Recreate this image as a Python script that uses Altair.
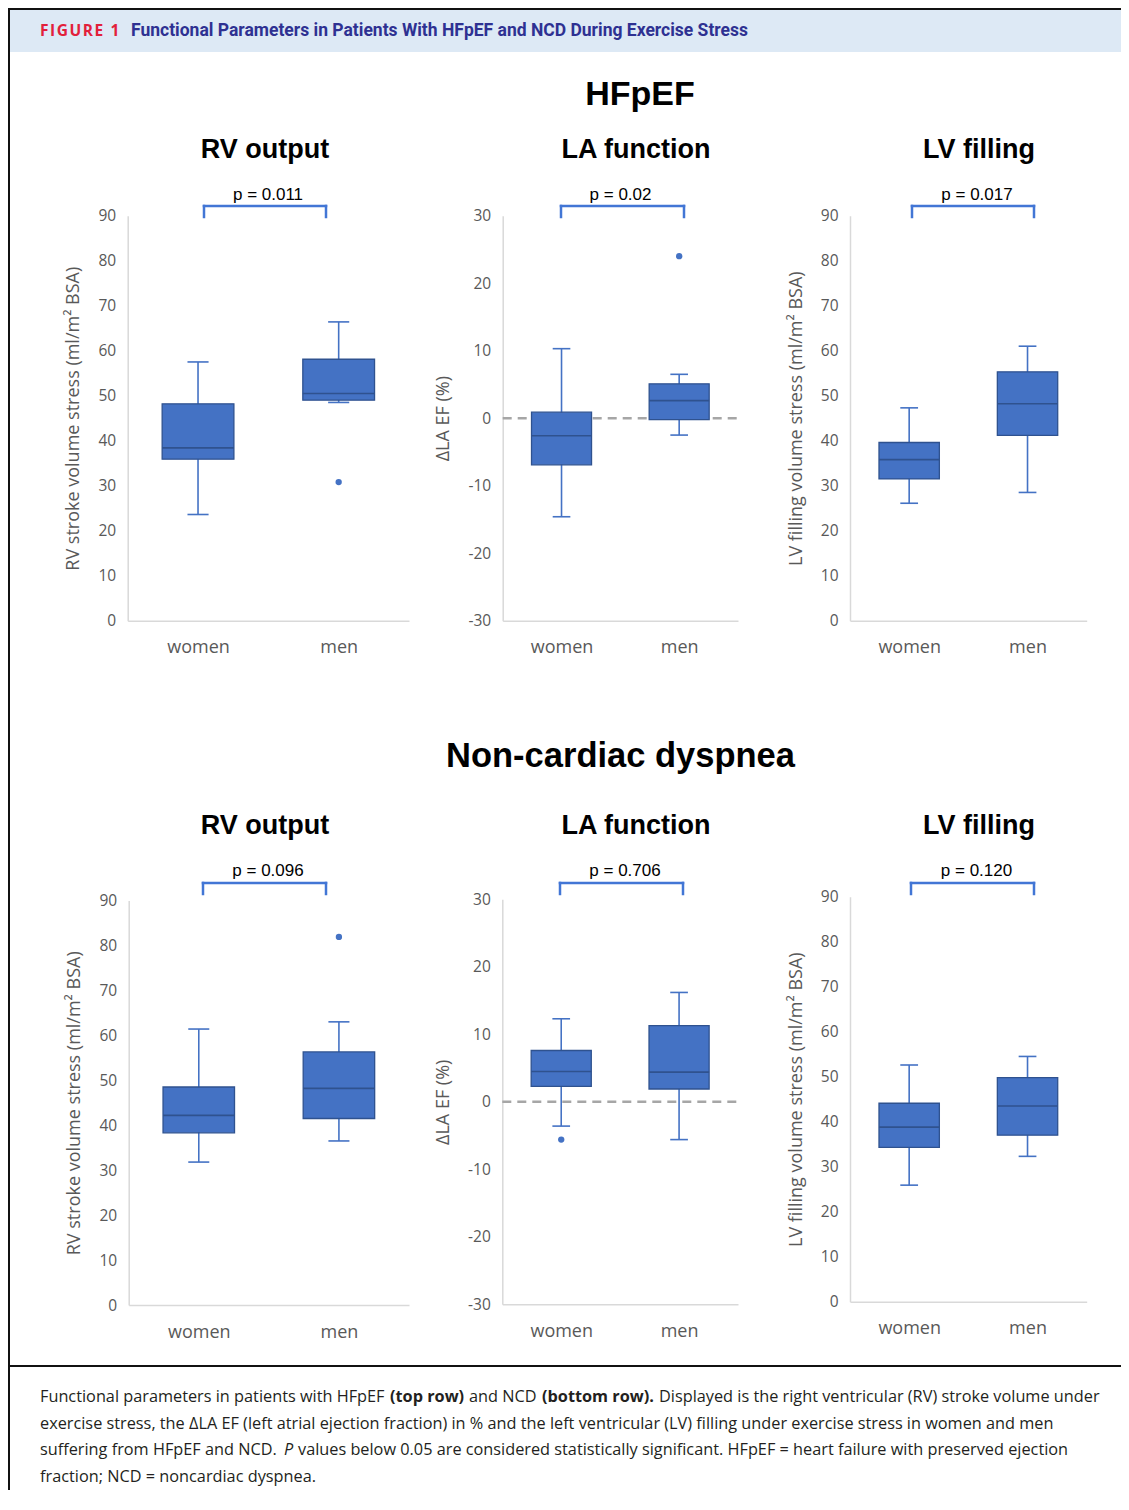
import altair as alt
import pandas as pd

# ---------------------------------------------------------------- data
GROUPS = ["women", "men"]
# five-number summaries: [lower whisker, Q1, median, Q3, upper whisker]
HF_RV = {"women": [23.6, 35.9, 38.4, 48.2, 57.5], "men": [48.5, 49.0, 50.5, 58.1, 66.4]}
HF_RV_OUT = {"women": [], "men": [30.8]}
HF_LA = {"women": [-14.6, -6.9, -2.6, 0.9, 10.3], "men": [-2.5, -0.2, 2.6, 5.1, 6.5]}
HF_LA_OUT = {"women": [], "men": [24.0]}
HF_LV = {"women": [26.1, 31.5, 35.8, 39.6, 47.3], "men": [28.5, 41.2, 48.2, 55.3, 61.0]}
HF_LV_OUT = {"women": [], "men": []}

NCD_RV = {"women": [31.8, 38.3, 42.2, 48.5, 61.4], "men": [36.5, 41.5, 48.2, 56.3, 63.0]}
NCD_RV_OUT = {"women": [], "men": [81.9]}
NCD_LA = {"women": [-3.6, 2.3, 4.5, 7.6, 12.3], "men": [-5.6, 1.9, 4.4, 11.3, 16.2]}
NCD_LA_OUT = {"women": [-5.6], "men": []}
NCD_LV = {"women": [25.9, 34.3, 38.8, 44.1, 52.6], "men": [32.3, 37.0, 43.5, 49.8, 54.5]}
NCD_LV_OUT = {"women": [], "men": []}

P_VALUES = ["p = 0.011", "p = 0.02", "p = 0.017", "p = 0.096", "p = 0.706", "p = 0.120"]
PANEL_TITLES = ["RV output", "LA function", "LV filling"]
Y_TITLES = ["RV stroke volume stress (ml/m² BSA)", "ΔLA EF (%)", "LV filling volume stress (ml/m² BSA)"]
SECTION_TITLES = ["HFpEF", "Non-cardiac dyspnea"]
VOL_TICKS = [0, 10, 20, 30, 40, 50, 60, 70, 80, 90]
LA_TICKS = [-30, -20, -10, 0, 10, 20, 30]
FIG_LABEL = "FIGURE 1"
FIG_TITLE = "Functional Parameters in Patients With HFpEF and NCD During Exercise Stress"

# ---------------------------------------------------------------- style / layout
W, H = 1113, 1482
OFF = 8
BLUE = "#4472C4"
DARK = "#2F528F"
BRACKET = "#4276D5"
AXIS_GRAY = "#D9D9D9"
LABEL_GRAY = "#595959"
BOX_HALF = 0.255
CAP_HALF = 0.075
AX_FONT = "Open Sans"
TITLE_FONT = "Liberation Sans"

# (stats, outliers, domain, ticks, frame in page px: x0, x1, ytop, ybottom, zero line)
PANELS = [
    (HF_RV, HF_RV_OUT, [0, 90], VOL_TICKS, (127.7, 409, 215.7, 620.7), False),
    (HF_LA, HF_LA_OUT, [-30, 30], LA_TICKS, (502.7, 738, 215.7, 620.7), True),
    (HF_LV, HF_LV_OUT, [0, 90], VOL_TICKS, (850, 1086.7, 215.7, 620.7), False),
    (NCD_RV, NCD_RV_OUT, [0, 90], VOL_TICKS, (128.7, 409, 900.5, 1305), False),
    (NCD_LA, NCD_LA_OUT, [-30, 30], LA_TICKS, (502.3, 738, 899.3, 1304.3), True),
    (NCD_LV, NCD_LV_OUT, [0, 90], VOL_TICKS, (850, 1086.7, 896.7, 1301.7), False),
]


def make_panel(i):
    stats, outs, domain, ticks, frame, zero = PANELS[i]
    x0, x1, yt, yb = [v - OFF for v in frame]
    rows = []
    for k, g in enumerate(GROUPS):
        lo, q1, md, q3, hi = stats[g]
        rows.append(dict(pos=k, low=lo, q1=q1, med=md, q3=q3, high=hi,
                         box_l=k - BOX_HALF, box_r=k + BOX_HALF,
                         cap_l=k - CAP_HALF, cap_r=k + CAP_HALF))
    df = pd.DataFrame(rows)
    df_out = pd.DataFrame([dict(pos=k, value=v) for k, g in enumerate(GROUPS) for v in outs[g]],
                          columns=["pos", "value"])

    xs = alt.Scale(domain=[-0.5, 1.5], range=[x0, x1], nice=False, zero=False)
    ys = alt.Scale(domain=domain, range=[yb, yt], nice=False, zero=False)
    xaxis = alt.Axis(orient="bottom", offset=yb - H, values=[0, 1],
                     labelExpr=f"datum.value == 0 ? '{GROUPS[0]}' : '{GROUPS[1]}'",
                     title=None, ticks=False, tickSize=0, grid=False,
                     domainColor=AXIS_GRAY, domainWidth=1.5,
                     labelFont=AX_FONT, labelFontSize=18, labelColor=LABEL_GRAY,
                     labelPadding=18, labelFlush=False, labelOverlap=False)
    yaxis = alt.Axis(orient="left", offset=-x0, values=ticks, title=Y_TITLES[i % 3],
                     labelExpr="'' + datum.value",
                     ticks=False, tickSize=0, grid=False,
                     domainColor=AXIS_GRAY, domainWidth=1.5,
                     labelFont=AX_FONT, labelFontSize=15.5, labelColor=LABEL_GRAY,
                     labelPadding=12, labelFlush=False, labelOverlap=False,
                     titleFont=AX_FONT, titleFontSize=18, titleFontWeight="normal",
                     titleColor=LABEL_GRAY, titlePadding=15)

    def X(f):
        return alt.X(f"{f}:Q", scale=xs, axis=xaxis)

    def Y(f):
        return alt.Y(f"{f}:Q", scale=ys, axis=yaxis)

    base = alt.Chart(df)
    layers = []
    if zero:
        dz = pd.DataFrame({"xa": [-0.5], "xb": [1.5], "zero": [0]})
        layers.append(alt.Chart(dz).mark_rule(color="#A6A6A6", strokeWidth=2.5, strokeDash=[9, 6])
                      .encode(x=X("xa"), x2="xb", y=Y("zero")))
    layers += [
        base.mark_rule(color=BLUE, strokeWidth=1.6).encode(x=X("pos"), y=Y("low"), y2="high"),
        base.mark_rule(color=BLUE, strokeWidth=1.6).encode(x=X("cap_l"), x2="cap_r", y=Y("low")),
        base.mark_rule(color=BLUE, strokeWidth=1.6).encode(x=X("cap_l"), x2="cap_r", y=Y("high")),
        base.mark_rect(fill=BLUE, stroke=DARK, strokeWidth=1.3).encode(
            x=X("box_l"), x2="box_r", y=Y("q1"), y2="q3"),
        base.mark_rule(color=DARK, strokeWidth=1.6).encode(x=X("box_l"), x2="box_r", y=Y("med")),
    ]
    if len(df_out):
        layers.append(alt.Chart(df_out).mark_circle(color=BLUE, size=40, opacity=1)
                      .encode(x=X("pos"), y=Y("value")))
    return alt.layer(*layers)


ONE = pd.DataFrame({"k": [0]})


def text(s, x, y, size, weight="normal", color="#000000", font=TITLE_FONT, align="center",
         baseline="alphabetic", style="normal"):
    return alt.Chart(ONE).mark_text(text=s, font=font, fontSize=size, fontWeight=weight,
                                    fontStyle=style, color=color, align=align,
                                    baseline=baseline).encode(
        x=alt.value(x - OFF), y=alt.value(y - OFF))


def hline(xa, xb, y, color, width):
    return alt.Chart(ONE).mark_rule(color=color, strokeWidth=width, strokeCap="square").encode(
        x=alt.value(xa - OFF), x2=alt.value(xb - OFF), y=alt.value(y - OFF))


def vline(x, ya, yb, color, width):
    return alt.Chart(ONE).mark_rule(color=color, strokeWidth=width, strokeCap="square").encode(
        x=alt.value(x - OFF), y=alt.value(ya - OFF), y2=alt.value(yb - OFF))


deco = []
# header band and frame
deco.append(alt.Chart(ONE).mark_rect(color="#DDE9F5").encode(
    x=alt.value(2), x2=alt.value(W), y=alt.value(1), y2=alt.value(44)))
deco.append(hline(8, W + OFF, 9, "#111111", 2))
deco.append(vline(9, 8, H + OFF, "#111111", 2))
deco.append(hline(8, W + OFF, 1366, "#111111", 2))
deco.append(text("\u200a".join(FIG_LABEL), 40, 31, 15.5, "bold", "#E2203A", "Open Sans", "left", "middle"))
deco.append(text(FIG_TITLE, 131, 31, 17.5, "bold", "#2E3192", "Roboto", "left", "middle"))

# section titles
deco.append(text(SECTION_TITLES[0], 640, 105, 34, "bold"))
deco.append(text(SECTION_TITLES[1], 620.5, 767, 34.5, "bold"))

# panel titles, p values, brackets
title_x = [265, 636, 979]
title_y = [158, 834]
p_x = [[268, 620.5, 977], [268, 625, 976.5]]
p_y = [200, 876]
br_x = [[(204, 326), (561, 684), (912, 1034)], [(203, 326), (560, 683), (911, 1034)]]
br_y = [(206, 217), (883, 894)]
for r in range(2):
    for c in range(3):
        deco.append(text(PANEL_TITLES[c], title_x[c], title_y[r], 27, "bold"))
        deco.append(text(P_VALUES[3 * r + c], p_x[r][c], p_y[r], 17))
        xa, xb = br_x[r][c]
        ya, yb = br_y[r]
        deco.append(hline(xa, xb, ya, BRACKET, 2.5))
        deco.append(vline(xa, ya, yb, BRACKET, 2.5))
        deco.append(vline(xb, ya, yb, BRACKET, 2.5))

# caption
CAP_FONT = "Open Sans"
CAP_SIZE = 16.3
CAP_COLOR = "#231F20"
cap_lines_y = [1397, 1424, 1450, 1477]
CAPTION = [
    (40, 0, "Functional parameters in patients with HFpEF", "normal", "normal"),
    (390, 0, "(top row)", "bold", "normal"),
    (469, 0, "and NCD", "normal", "normal"),
    (542, 0, "(bottom row).", "bold", "normal"),
    (659, 0, "Displayed is the right ventricular (RV) stroke volume under", "normal", "normal"),
    (40, 1, "exercise stress, the ΔLA EF (left atrial ejection fraction) in % and the left ventricular "
            "(LV) filling under exercise stress in women and men", "normal", "normal"),
    (40, 2, "suffering from HFpEF and NCD.", "normal", "normal"),
    (284, 2, "P", "normal", "italic"),
    (298, 2, "values below 0.05 are considered statistically significant. HFpEF = heart failure with "
             "preserved ejection", "normal", "normal"),
    (40, 3, "fraction; NCD = noncardiac dyspnea.", "normal", "normal"),
]
for x, li, s, wt, st in CAPTION:
    deco.append(text(s, x, cap_lines_y[li], CAP_SIZE, wt, CAP_COLOR, CAP_FONT, "left", "middle", st))

panels = [make_panel(i) for i in range(6)]

chart = alt.layer(deco[0], *panels, *deco[1:]).resolve_scale(
    x="independent", y="independent"
).properties(
    width=W, height=H, padding=0, autosize=alt.AutoSizeParams(type="none")
).configure_view(stroke=None).configure(background="white")

chart.save("out.html", embed_options={"renderer": "svg", "actions": False})
